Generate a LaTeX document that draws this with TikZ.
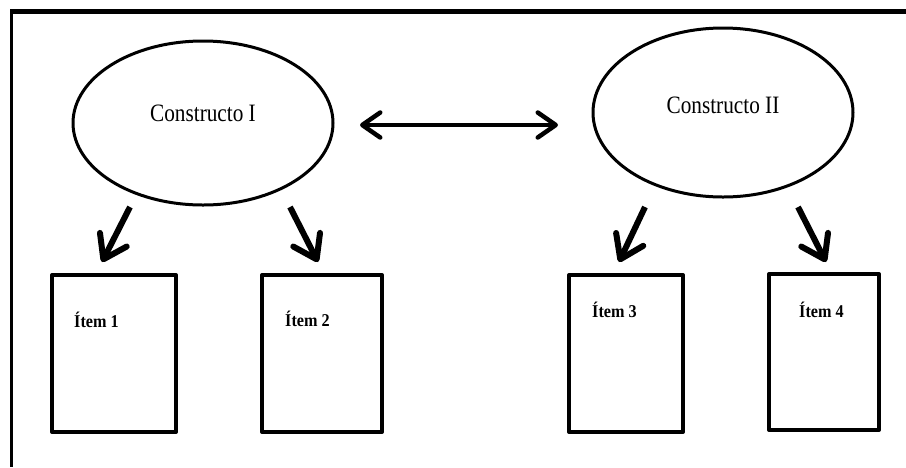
\documentclass[tikz,border=0pt]{standalone}
\usepackage{fontspec}
\setmainfont{Liberation Serif}
\newfontfamily\cfont[FakeStretch=0.85]{Liberation Serif}
\newfontfamily\ifont[FakeStretch=0.9]{Liberation Serif}
\usetikzlibrary{arrows.meta,shapes.geometric,positioning}

\begin{document}
\begin{tikzpicture}[x=1pt,y=-1pt,line join=round]
	\tikzstyle{constr}=[draw, ellipse, line width=3pt, inner sep=0pt, font=\cfont\fontsize{25}{28}\selectfont, text height=12pt]
	\tikzstyle{itembox}=[draw, rectangle, line width=4pt, minimum height=157pt, inner sep=0pt]
	\tikzstyle{itm}=[anchor=base west, inner sep=0pt, font=\ifont\fontsize{18}{21}\selectfont\bfseries]
	\tikzstyle{bar}=[line width=6pt, -{Straight Barb[length=22pt,width=30pt,round]}]
	\useasboundingbox (0,0) rectangle (906,467);
	% marco
	\draw[line width=5pt] (10,11.5) -- (906,11.5);
	\draw[line width=3pt] (11.5,11.5) -- (11.5,467);
	% constructos
	\node[constr, minimum width=260pt, minimum height=164pt, text depth=16pt] (C1) at (203,123) {Constructo I};
	\node[constr, minimum width=260pt, minimum height=169pt, text depth=11pt] (C2) at (723,112.5) {Constructo II};
	% items
	\node[itembox, minimum width=124pt] (B1) at (114,353.5) {};
	\node[itembox, minimum width=120pt] (B2) at (322,353.5) {};
	\node[itembox, minimum width=114pt] (B3) at (626,353.5) {};
	\node[itembox, minimum width=110pt, minimum height=156pt] (B4) at (824,352) {};
	\node[itm] (T1) at ([shift={(24,54)}]B1.north west) {Ítem 1};
	\node[itm] (T2) at ([shift={(25,53)}]B2.north west) {Ítem 2};
	\node[itm] (T3) at ([shift={(25,44)}]B3.north west) {Ítem 3};
	\node[itm] (T4) at ([shift={(32,45)}]B4.north west) {Ítem 4};
	% flechas
	\coordinate (L) at (360,125);
	\coordinate (R) at (558,125);
	\coordinate (S1) at (130,207);
	\coordinate (E1) at (102,262);
	\coordinate (S2) at (290,207);
	\coordinate (E2) at (318,262);
	\coordinate (S3) at (645,207);
	\coordinate (E3) at (619,262);
	\coordinate (S4) at (798,207);
	\coordinate (E4) at (826,262);
	\draw[line width=4.5pt, {Straight Barb[length=18pt,width=25pt,round]}-{Straight Barb[length=18pt,width=25pt,round]}] (L) -- (R);
	\draw[bar] (S1) -- (E1);
	\draw[bar] (S2) -- (E2);
	\draw[bar] (S3) -- (E3);
	\draw[bar] (S4) -- (E4);
\end{tikzpicture}
\end{document}
